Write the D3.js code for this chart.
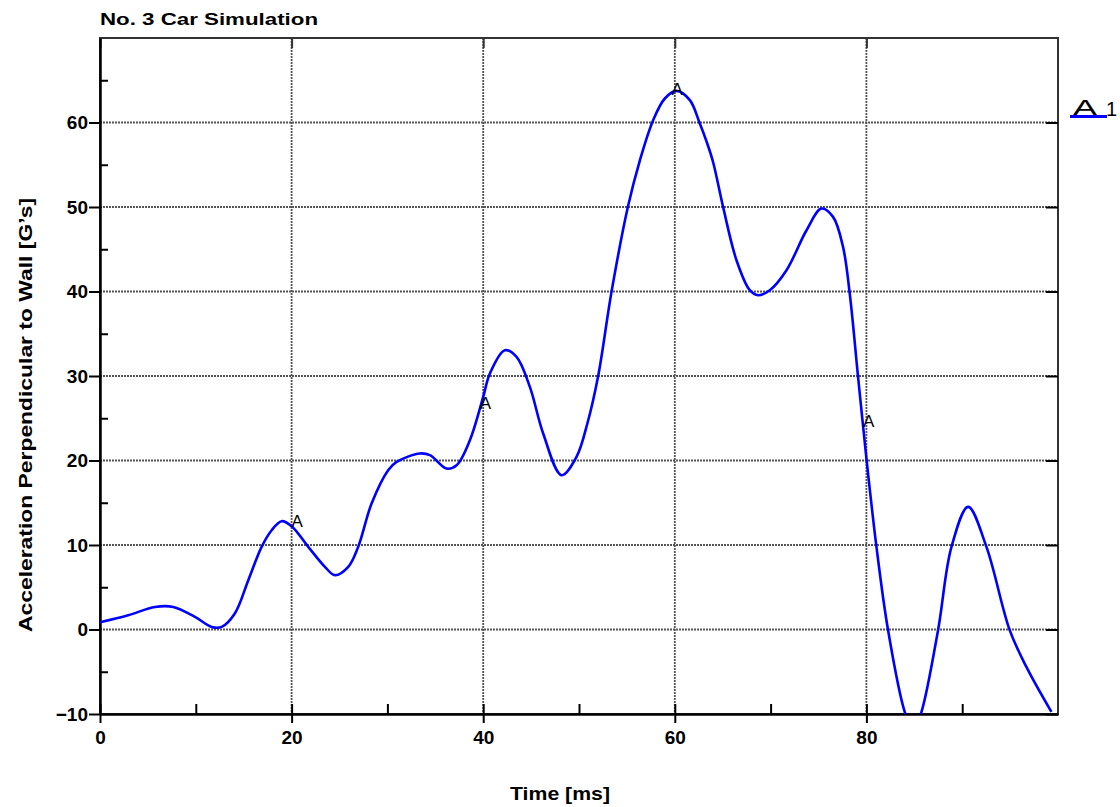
<!DOCTYPE html>
<html>
<head>
<meta charset="utf-8">
<script src="https://cdn.jsdelivr.net/npm/d3@7"></script>
<style>
  body { margin: 0; background: #fff; }
  text { font-family: "Liberation Sans", Arial, sans-serif; }
</style>
</head>
<body>
<svg id="chart"></svg>
<script>
// Data
const timeMs = [0, 2.95, 5.74, 7.65, 9.91, 11.66, 12.7, 14.09, 15.48, 16.87, 17.92, 18.96, 20.0,
  21.74, 23.48, 24.52, 25.91, 26.95, 28.35, 30.08, 30.96, 33.39, 34.44, 36.18, 37.22, 38.61,
  40.0, 40.7, 42.26, 43.48, 44.87, 46.26, 48.18, 49.74, 50.9, 52.0, 53.4, 55.1, 56.35,
  57.74, 58.96, 60.18, 61.57, 62.61, 63.3, 64.0, 65.04, 66.44, 67.83, 68.69, 69.91, 71.66, 73.75,
  75.31, 76.52, 77.56, 78.26, 79.13, 80.0, 81.05, 82.26, 84.0, 84.9, 85.75, 87.48, 88.88,
  90.62, 92.53, 94.96, 96.7, 99.31];
const accelG = [0.86, 1.69, 2.67, 2.67, 1.49, 0.31, 0.31, 1.93, 5.83, 9.78, 11.75, 12.82, 12.22,
  9.78, 7.41, 6.43, 7.41, 9.78, 14.91, 18.85, 19.83, 20.83, 20.63, 19.05, 19.44, 22.4,
  27.53, 30.3, 33.05, 32.26, 28.71, 23.2, 18.26, 20.43, 24.5, 30.0, 40.0, 50.0, 55.5,
  60.27, 62.84, 63.74, 62.64, 59.88, 57.8, 55.3, 50.01, 43.7, 40.15, 39.56, 40.15, 42.52, 47.25,
  49.82, 48.83, 45.28, 39.76, 29.89, 20.27, 9.78, -0.08, -9.75, -12.0, -9.75, -0.08, 9.78,
  14.51, 9.78, -0.08, -4.43, -9.75];
const markerTimes = [20.0, 39.65, 59.65, 79.65];
const xTicks = [0, 20, 40, 60, 80];
const xMinorTicks = [10, 30, 50, 70, 90];
const yTicks = [-10, 0, 10, 20, 30, 40, 50, 60];
const yMinorTicks = [-5, 5, 15, 25, 35, 45, 55, 65];
const seriesName = "A";
const seriesId = "1";

const width = 1120;
const height = 807;
const svg = d3.select("#chart").attr("width", width).attr("height", height);

const margin = { top: 38, bottom: 93, left: 100, right: 62 };
const innerWidth = width - margin.left - margin.right;
const innerHeight = height - margin.top - margin.bottom;

const xScale = d3.scaleLinear().domain([0, 100]).range([0, innerWidth]);
const yScale = d3.scaleLinear().domain([-10, 70]).range([innerHeight, 0]);

const g = svg.append("g").attr("transform", `translate(${margin.left},${margin.top})`);

svg.append("defs").append("clipPath").attr("id", "plot-clip")
  .append("rect").attr("width", innerWidth).attr("height", innerHeight);

// grid
const gridColor = "#555";
g.append("g").selectAll("line").data(xTicks.filter((d) => d > 0)).join("line")
  .attr("x1", (d) => xScale(d)).attr("x2", (d) => xScale(d))
  .attr("y1", 0).attr("y2", innerHeight)
  .attr("stroke", gridColor).attr("stroke-width", 1.8).attr("stroke-dasharray", "2,1");
g.append("g").selectAll("line").data(yTicks.filter((d) => d > -10)).join("line")
  .attr("y1", (d) => yScale(d)).attr("y2", (d) => yScale(d))
  .attr("x1", 0).attr("x2", innerWidth)
  .attr("stroke", gridColor).attr("stroke-width", 1.8).attr("stroke-dasharray", "2,1");

// frame
g.append("rect").attr("width", innerWidth).attr("height", innerHeight)
  .attr("fill", "none").attr("stroke", "#333").attr("stroke-width", 2);

// x-Axis
const xAxis = d3.axisBottom(xScale).tickValues(xTicks).tickSize(9).tickSizeOuter(0).tickPadding(8);
const xAxisG = g.append("g").attr("transform", `translate(0,${innerHeight})`).call(xAxis);
xAxisG.select(".domain").attr("stroke", "#000").attr("stroke-width", 2.5);
xAxisG.selectAll(".tick line").attr("stroke", "#000").attr("stroke-width", 2);
xAxisG.selectAll(".tick text").attr("font-size", 19).attr("font-weight", "bold").attr("fill", "#000");
g.append("g").attr("transform", `translate(0,${innerHeight})`)
  .call(d3.axisBottom(xScale).tickValues(xTicks.concat(xMinorTicks)).tickSize(-10).tickFormat(""))
  .call((a) => a.select(".domain").remove())
  .selectAll("line").attr("stroke", "#000").attr("stroke-width", 2);
g.append("g")
  .call(d3.axisTop(xScale).tickValues(xTicks).tickSize(-10).tickFormat(""))
  .call((a) => a.select(".domain").remove())
  .selectAll("line").attr("stroke", "#333").attr("stroke-width", 2);

// y-Axis
const yAxis = d3.axisLeft(yScale).tickValues(yTicks).tickSize(11).tickSizeOuter(0).tickPadding(1)
  .tickFormat((d) => (d < 0 ? "\u2212" + Math.abs(d) : d));
const yAxisG = g.append("g").call(yAxis);
yAxisG.select(".domain").attr("stroke", "#000").attr("stroke-width", 2.5);
yAxisG.selectAll(".tick line").attr("stroke", "#000").attr("stroke-width", 2);
yAxisG.selectAll(".tick text").attr("font-size", 19).attr("font-weight", "bold").attr("fill", "#000");
g.append("g")
  .call(d3.axisLeft(yScale).tickValues(yMinorTicks).tickSize(-8).tickFormat(""))
  .call((a) => a.select(".domain").remove())
  .selectAll("line").attr("stroke", "#000").attr("stroke-width", 2);
g.append("g").attr("transform", `translate(${innerWidth},0)`)
  .call(d3.axisRight(yScale).tickValues(yTicks).tickSize(-12).tickFormat(""))
  .call((a) => a.select(".domain").remove())
  .selectAll("line").attr("stroke", "#000").attr("stroke-width", 2);

// titles
svg.append("text").attr("x", 100).attr("y", 25)
  .attr("font-size", 17).attr("font-weight", "bold").attr("textLength", 218)
  .attr("lengthAdjust", "spacingAndGlyphs").text("No. 3 Car Simulation");
svg.append("text").attr("transform", "translate(32,415) rotate(-90)")
  .attr("text-anchor", "middle").attr("font-size", 19).attr("font-weight", "bold")
  .attr("textLength", 434).attr("lengthAdjust", "spacingAndGlyphs")
  .text("Acceleration Perpendicular to Wall [G\u2019s]");
svg.append("text").attr("x", 560).attr("y", 800)
  .attr("text-anchor", "middle").attr("font-size", 19).attr("font-weight", "bold")
  .attr("textLength", 100).attr("lengthAdjust", "spacingAndGlyphs").text("Time [ms]");

// line
const series = timeMs.map((t, i) => ({ t: t, a: accelG[i] }));
const lineGenerator = d3.line()
  .x((d) => xScale(d.t))
  .y((d) => yScale(d.a))
  .curve(d3.curveCatmullRom.alpha(0.5));
g.append("path").attr("clip-path", "url(#plot-clip)")
  .attr("d", lineGenerator(series))
  .attr("fill", "none").attr("stroke", "#0000ff").attr("stroke-width", 2.6);

// markers
const interp = (t) => {
  const i = d3.bisector((d) => d.t).left(series, t);
  const p0 = series[i - 1], p1 = series[i];
  return p0.a + (p1.a - p0.a) * (t - p0.t) / (p1.t - p0.t);
};
g.append("g").selectAll("text").data(markerTimes).join("text")
  .attr("x", (d) => xScale(d))
  .attr("y", (d) => yScale(interp(d)) + 1)
  .attr("font-size", 17).attr("fill", "#000")
  .text(seriesName);

// legend
svg.append("line").attr("x1", 1070).attr("x2", 1107).attr("y1", 116.5).attr("y2", 116.5)
  .attr("stroke", "#0000ff").attr("stroke-width", 3);
svg.append("text").attr("x", 1085).attr("y", 115).attr("text-anchor", "middle")
  .attr("font-size", 22).attr("textLength", 24).attr("lengthAdjust", "spacingAndGlyphs")
  .text(seriesName);
svg.append("text").attr("x", 1106).attr("y", 116).attr("font-size", 20).text(seriesId);
</script>
</body>
</html>
